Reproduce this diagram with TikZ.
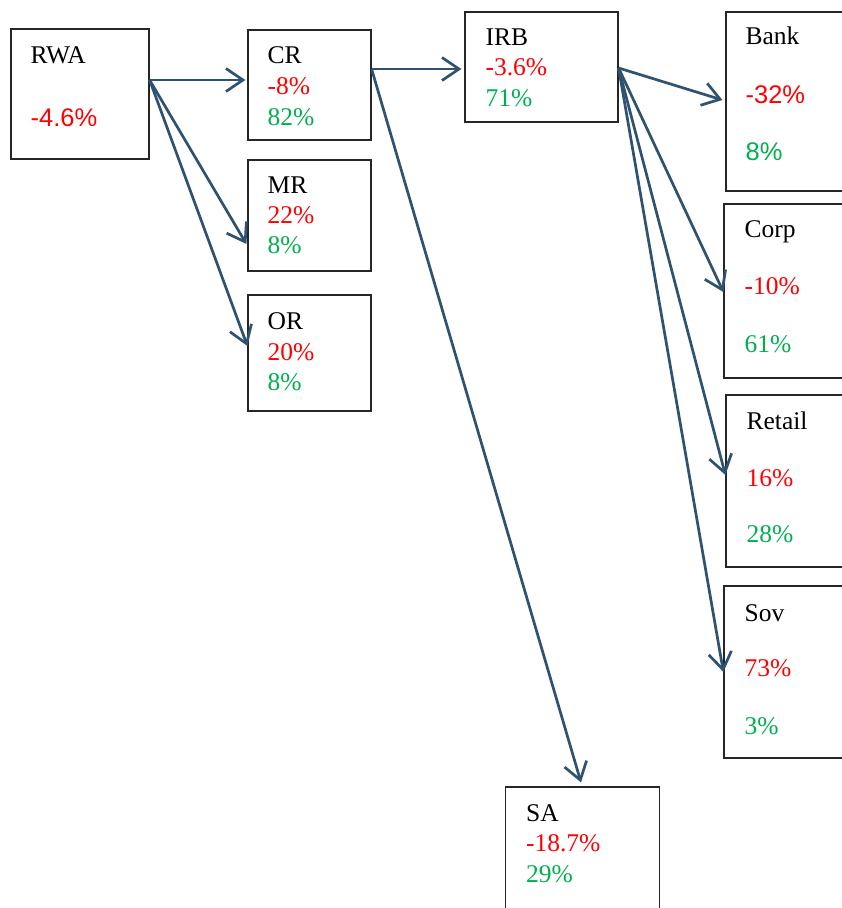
\documentclass[tikz,border=0pt]{standalone}
\usepackage{fontspec}
\setmainfont{Liberation Serif}
\newfontfamily\arialf{Liberation Sans}
\usetikzlibrary{arrows.meta}
\definecolor{arrowc}{RGB}{47,82,112}
\definecolor{pctred}{RGB}{255,0,0}
\definecolor{pctgreen}{RGB}{0,176,80}
\tikzset{
  box/.style={draw=black!85, line width=1.2pt, rectangle, inner sep=0pt},
  txt/.style={anchor=base west, inner sep=0pt, font=\fontsize{25.5}{30}\selectfont},
  red/.style={txt, text=pctred},
  grn/.style={txt, text=pctgreen},
  conn/.style={draw=arrowc, line width=2.7pt, -{Straight Barb[length=17pt,width=23pt,line width=2.7pt]}}
}
\begin{document}
\begin{tikzpicture}[x=1pt,y=-1pt]
\useasboundingbox (0,0) rectangle (842,908);
\clip (0,0) rectangle (842,908);
\fill[white] (0,0) rectangle (842,908);
% boxes
\node[box, minimum width=138pt, minimum height=130pt] (RWA) at (80,94) {};
\node[box, minimum width=123pt, minimum height=110pt] (CR) at (309.5,85) {};
\node[box, minimum width=123pt, minimum height=111pt] (MR) at (309.5,215.5) {};
\node[box, minimum width=123pt, minimum height=116pt] (OR) at (309.5,353) {};
\node[box, minimum width=153pt, minimum height=110pt] (IRB) at (541.5,67) {};
\node[box, minimum width=154pt, minimum height=179pt] (Bank) at (803,101.5) {};
\node[box, minimum width=154pt, minimum height=174pt] (Corp) at (801,291) {};
\node[box, minimum width=154pt, minimum height=172pt] (Retail) at (803,481) {};
\node[box, minimum width=154pt, minimum height=172pt] (Sov) at (801,672) {};
\node[box, minimum width=154pt, minimum height=143pt] (SA) at (582.5,858.5) {};
% texts
\node[txt] (RWAt) at ([xshift=20pt,yshift=-35pt]RWA.north west) {RWA};
\node[red, font=\arialf\fontsize{25.5}{30}\selectfont] (RWAa) at ([xshift=20pt,yshift=-98pt]RWA.north west) {-4.6\%};

\node[txt] (CRt) at ([xshift=20pt,yshift=-34pt]CR.north west) {CR};
\node[red] (CRa) at ([xshift=20pt,yshift=-65pt]CR.north west) {-8\%};
\node[grn] (CRb) at ([xshift=20pt,yshift=-96pt]CR.north west) {82\%};

\node[txt] (MRt) at ([xshift=20pt,yshift=-34pt]MR.north west) {MR};
\node[red] (MRa) at ([xshift=20pt,yshift=-64pt]MR.north west) {22\%};
\node[grn] (MRb) at ([xshift=20pt,yshift=-94pt]MR.north west) {8\%};

\node[txt] (ORt) at ([xshift=20pt,yshift=-35pt]OR.north west) {OR};
\node[red] (ORa) at ([xshift=20pt,yshift=-66pt]OR.north west) {20\%};
\node[grn] (ORb) at ([xshift=20pt,yshift=-96pt]OR.north west) {8\%};

\node[txt] (IRBt) at ([xshift=21pt,yshift=-34pt]IRB.north west) {IRB};
\node[red] (IRBa) at ([xshift=21pt,yshift=-64pt]IRB.north west) {-3.6\%};
\node[grn] (IRBb) at ([xshift=21pt,yshift=-95pt]IRB.north west) {71\%};

\node[txt] (Bankt) at ([xshift=20pt,yshift=-33pt]Bank.north west) {Bank};
\node[red, font=\arialf\fontsize{25.5}{30}\selectfont] (Banka) at ([xshift=20pt,yshift=-92pt]Bank.north west) {-32\%};
\node[grn, font=\arialf\fontsize{25.5}{30}\selectfont] (Bankb) at ([xshift=20pt,yshift=-149pt]Bank.north west) {8\%};

\node[txt] (Corpt) at ([xshift=21pt,yshift=-34pt]Corp.north west) {Corp};
\node[red] (Corpa) at ([xshift=21pt,yshift=-91pt]Corp.north west) {-10\%};
\node[grn] (Corpb) at ([xshift=21pt,yshift=-149pt]Corp.north west) {61\%};

\node[txt] (Retailt) at ([xshift=21pt,yshift=-35pt]Retail.north west) {Retail};
\node[red] (Retaila) at ([xshift=21pt,yshift=-92pt]Retail.north west) {16\%};
\node[grn] (Retailb) at ([xshift=21pt,yshift=-148pt]Retail.north west) {28\%};

\node[txt] (Sovt) at ([xshift=21pt,yshift=-36pt]Sov.north west) {Sov};
\node[red] (Sova) at ([xshift=21pt,yshift=-91pt]Sov.north west) {73\%};
\node[grn] (Sovb) at ([xshift=21pt,yshift=-149pt]Sov.north west) {3\%};

\node[txt] (SAt) at ([xshift=21pt,yshift=-35pt]SA.north west) {SA};
\node[red] (SAa) at ([xshift=21pt,yshift=-65pt]SA.north west) {-18.7\%};
\node[grn] (SAb) at ([xshift=21pt,yshift=-96pt]SA.north west) {29\%};
% connectors
\draw[conn] ([yshift=14pt]RWA.east) -- ([xshift=-2pt,yshift=5pt]CR.west);
\draw[conn] ([yshift=14pt]RWA.east) -- ([xshift=-1pt,yshift=-28.5pt]MR.west);
\draw[conn] ([yshift=14pt]RWA.east) -- ([yshift=7pt]OR.west);
\draw[conn] ([yshift=16pt]CR.east) -- ([xshift=-3pt,yshift=-2pt]IRB.west);
\draw[conn] ([yshift=16pt]CR.east) -- ([xshift=-1.5pt,yshift=4pt]SA.north);
\draw[conn] ([yshift=-1pt]IRB.east) -- ([xshift=-3pt,yshift=1.5pt]Bank.west);
\draw[conn] ([yshift=-1pt]IRB.east) -- ([yshift=-1pt]Corp.west);
\draw[conn] ([yshift=-1pt]IRB.east) -- ([yshift=6pt]Retail.west);
\draw[conn] ([yshift=-1pt]IRB.east) -- (Sov.west);
\end{tikzpicture}
\end{document}
